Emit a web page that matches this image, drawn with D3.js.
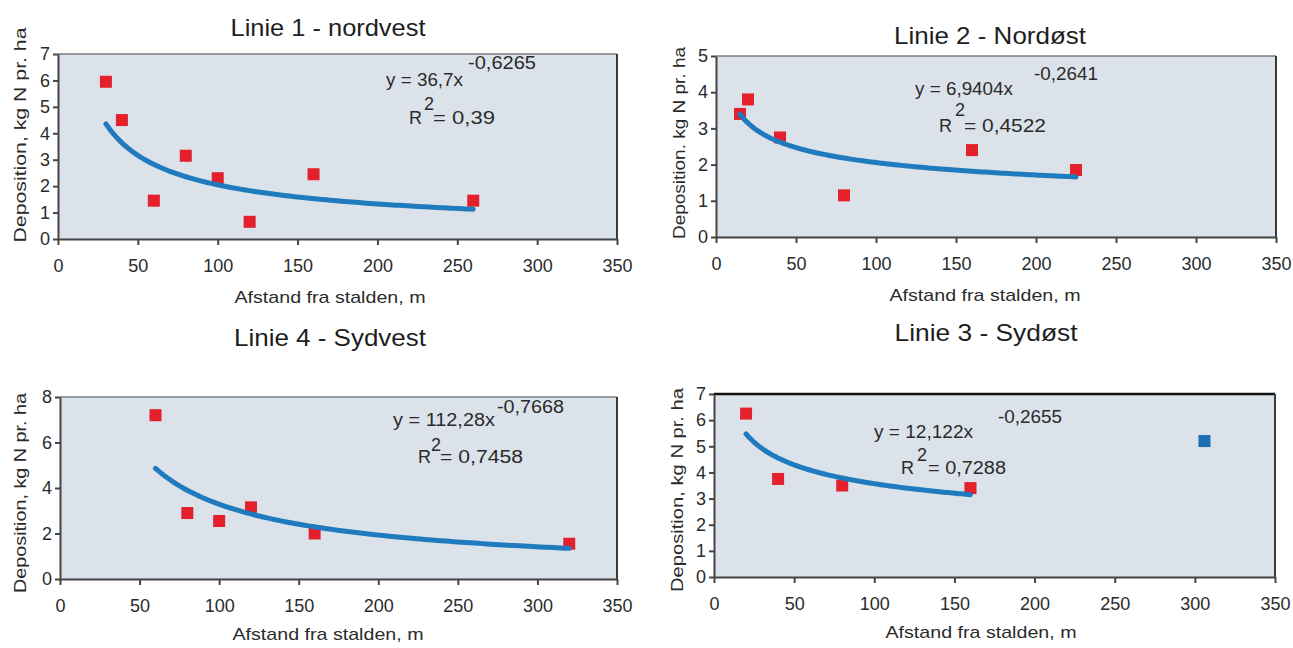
<!DOCTYPE html>
<html>
<head>
<meta charset="utf-8">
<script src="https://cdn.jsdelivr.net/npm/d3@7"></script>
<style>
body { margin: 0; background: #fff; }
text { font-family: "Liberation Sans", Arial, Helvetica, sans-serif; }
</style>
</head>
<body>
<div id="chart"></div>
<script>
// chart data
var titles = ["Linie 1 - nordvest", "Linie 2 - Nordøst", "Linie 4 - Sydvest", "Linie 3 - Sydøst"];
var y_titles = ["Deposition, kg N pr. ha", "Deposition. kg N pr. ha", "Deposition, kg N pr. ha", "Deposition, kg N pr. ha"];
var x_title = "Afstand fra stalden, m";
var x_ticks = [0, 50, 100, 150, 200, 250, 300, 350];
var y_max = [7, 5, 8, 7];
var y_step = [1, 1, 2, 1];

var dist_l1 = [30, 40, 60, 80, 100, 120, 160, 260];
var dep_l1  = [5.95, 4.5, 1.45, 3.15, 2.3, 0.65, 2.45, 1.45];
var dist_l2 = [15, 20, 40, 80, 160, 225];
var dep_l2  = [3.4, 3.8, 2.75, 1.15, 2.4, 1.85];
var dist_l4 = [60, 80, 100, 120, 160, 320];
var dep_l4  = [7.2, 2.9, 2.55, 3.15, 2.0, 1.55];
var dist_l3 = [20, 40, 80, 160];
var dep_l3  = [6.25, 3.75, 3.5, 3.4];
// point left out of the fit in Linie 3
var dist_l3_out = [306];
var dep_l3_out  = [5.2];

// power trend lines y = a * x^b
var trend_a = [36.7, 6.9404, 112.28, 12.122];
var trend_b = [-0.6265, -0.2641, -0.7668, -0.2655];
var eq_text = ["y = 36,7x", "y = 6,9404x", "y = 112,28x", "y = 12,122x"];
var eq_power = ["-0,6265", "-0,2641", "-0,7668", "-0,2655"];
var r2_text = ["= 0,39", "= 0,4522", "= 0,7458", "= 0,7288"];

var dists = [dist_l1, dist_l2, dist_l4, dist_l3];
var deps = [dep_l1, dep_l2, dep_l4, dep_l3];

// layout of the four panels (pixels)
var boxes = [
  {left: 58,  right: 617,  top: 54,  bottom: 239, title_x: 328, title_y: 36,  title_len: 195,
   ylab_x: 20,  ylab_y: 135, ylab_len: 215, xlab_x: 330, xlab_y: 303,
   eq: [386, 86, 77], sup: [468, 69, 68], r: [409, 124], two: [424, 110], rest: [433, 124, 62]},
  {left: 716, right: 1276, top: 56,  bottom: 237, title_x: 990, title_y: 44,  title_len: 192,
   ylab_x: 679, ylab_y: 143, ylab_len: 192, xlab_x: 985, xlab_y: 301,
   eq: [915, 95, 98], sup: [1034, 80, 64], r: [939, 132], two: [955, 116], rest: [964, 132, 82]},
  {left: 60,  right: 617,  top: 397, bottom: 579, title_x: 330, title_y: 346, title_len: 192,
   ylab_x: 20,  ylab_y: 493, ylab_len: 200, xlab_x: 328, xlab_y: 640,
   eq: [393, 426, 102], sup: [497, 413, 67], r: [418, 463], two: [431, 451], rest: [440, 463, 83]},
  {left: 714, right: 1275, top: 394, bottom: 577, title_x: 986, title_y: 341, title_len: 183,
   ylab_x: 677, ylab_y: 490, ylab_len: 204, xlab_x: 981, xlab_y: 638,
   eq: [874, 438, 99], sup: [998, 423, 64], r: [901, 474], two: [917, 461], rest: [928, 474, 78]}
];

var svg = d3.select("#chart").append("svg")
    .attr("width", 1293)
    .attr("height", 648);

function draw_panel(i) {
  var b = boxes[i];
  var x = d3.scaleLinear().domain([0, 350]).range([b.left, b.right]);
  var y = d3.scaleLinear().domain([0, y_max[i]]).range([b.bottom, b.top]);
  var g = svg.append("g");

  // plot area
  g.append("rect")
      .attr("x", b.left).attr("y", b.top)
      .attr("width", b.right - b.left).attr("height", b.bottom - b.top)
      .attr("fill", "#dbe2ea");
  // top and right frame
  g.append("line")
      .attr("x1", b.left).attr("x2", b.right)
      .attr("y1", b.top).attr("y2", b.top)
      .attr("stroke", i == 3 ? "#111" : "#7a7d80")
      .attr("stroke-width", i == 3 ? 2.5 : 1.5);
  g.append("line")
      .attr("x1", b.right).attr("x2", b.right)
      .attr("y1", b.top).attr("y2", b.bottom)
      .attr("stroke", "#3a3a3a")
      .attr("stroke-width", 2);

  var x_axis = g.append("g")
      .attr("transform", "translate(0," + b.bottom + ")")
      .call(d3.axisBottom(x).tickValues(x_ticks).tickSize(6).tickPadding(14).tickSizeOuter(0));
  var y_axis = g.append("g")
      .attr("transform", "translate(" + b.left + ",0)")
      .call(d3.axisLeft(y).tickValues(d3.range(0, y_max[i] + 0.01, y_step[i]))
              .tickFormat(d3.format("d")).tickSize(5).tickPadding(3).tickSizeOuter(0));

  [x_axis, y_axis].forEach(function(a) {
    a.select(".domain").attr("stroke", "#444").attr("stroke-width", 2);
    a.selectAll(".tick line").attr("stroke", "#444").attr("stroke-width", 2);
    a.selectAll(".tick text")
        .attr("fill", "#2b2b2b")
        .style("font-size", "18px");
  });

  // data points
  g.selectAll("rect.pt")
      .data(d3.zip(dists[i], deps[i]))
      .enter().append("rect")
      .attr("class", "pt")
      .attr("x", function(d) { return x(d[0]) - 6; })
      .attr("y", function(d) { return y(d[1]) - 6; })
      .attr("width", 12).attr("height", 12)
      .attr("fill", "#e3202b");

  if (i == 3) {
    g.selectAll("rect.out")
        .data(d3.zip(dist_l3_out, dep_l3_out))
        .enter().append("rect")
        .attr("class", "out")
        .attr("x", function(d) { return x(d[0]) - 6; })
        .attr("y", function(d) { return y(d[1]) - 6; })
        .attr("width", 12).attr("height", 12)
        .attr("fill", "#1c6fb3");
  }

  // trend line over the measured range
  var x0 = d3.min(dists[i]), x1 = d3.max(dists[i]);
  var curve = d3.range(0, 101).map(function(k) {
    var xv = x0 + (x1 - x0) * k / 100;
    return [xv, trend_a[i] * Math.pow(xv, trend_b[i])];
  });
  g.append("path")
      .datum(curve)
      .attr("fill", "none")
      .attr("stroke", "#1f7bbd")
      .attr("stroke-width", 5)
      .attr("stroke-linecap", "round")
      .attr("d", d3.line().x(function(d) { return x(d[0]); }).y(function(d) { return y(d[1]); }));

  // equation and R2
  var eq_style = function(t, len) {
    t.attr("fill", "#2b2b2b").style("font-size", "18px");
    if (len) t.attr("textLength", len).attr("lengthAdjust", "spacingAndGlyphs");
    return t;
  };
  eq_style(g.append("text").attr("x", b.eq[0]).attr("y", b.eq[1]).text(eq_text[i]), b.eq[2]);
  eq_style(g.append("text").attr("x", b.sup[0]).attr("y", b.sup[1]).text(eq_power[i]), b.sup[2]);
  eq_style(g.append("text").attr("x", b.r[0]).attr("y", b.r[1]).text("R"));
  eq_style(g.append("text").attr("x", b.two[0]).attr("y", b.two[1]).text("2"));
  eq_style(g.append("text").attr("x", b.rest[0]).attr("y", b.rest[1]).text(r2_text[i]), b.rest[2]);

  // titles
  g.append("text")
      .attr("x", b.title_x)
      .attr("y", b.title_y)
      .attr("text-anchor", "middle")
      .attr("fill", "#1e1e1e")
      .attr("textLength", b.title_len).attr("lengthAdjust", "spacingAndGlyphs")
      .style("font-size", "24px")
      .text(titles[i]);
  g.append("text")
      .attr("x", b.xlab_x)
      .attr("y", b.xlab_y)
      .attr("text-anchor", "middle")
      .attr("fill", "#2b2b2b")
      .attr("textLength", 191).attr("lengthAdjust", "spacingAndGlyphs")
      .style("font-size", "17px")
      .text(x_title);
  g.append("text")
      .attr("transform", "translate(" + b.ylab_x + "," + b.ylab_y + ") rotate(-90)")
      .attr("text-anchor", "middle")
      .attr("dy", "0.35em")
      .attr("fill", "#2b2b2b")
      .attr("textLength", b.ylab_len).attr("lengthAdjust", "spacingAndGlyphs")
      .style("font-size", "17px")
      .text(y_titles[i]);
}

for (var i = 0; i < 4; i++) {
  draw_panel(i);
}
</script>
</body>
</html>
